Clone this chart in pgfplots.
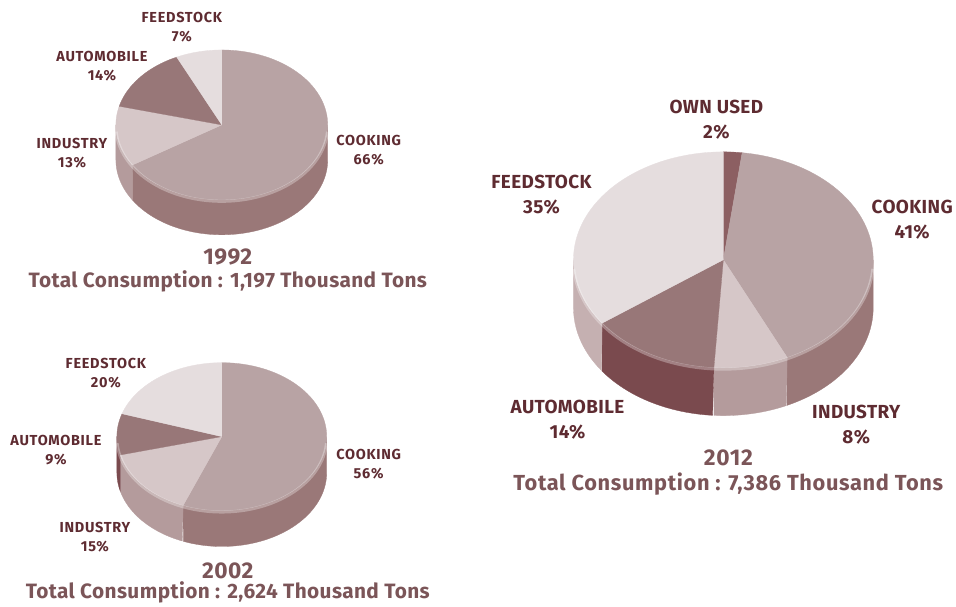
\documentclass[border=0pt]{standalone}
\usepackage{pgfplots}
\pgfplotsset{compat=1.18}
\usepackage{fontspec}
\setmainfont{Fira Sans}
\newfontfamily\labA[LetterSpace=5]{Fira Sans}
\newfontfamily\labB[LetterSpace=2]{Fira Sans}
\newfontfamily\ttlA[LetterSpace=2]{Fira Sans}
\newfontfamily\ttlB[LetterSpace=3]{Fira Sans}
\definecolor{cookT}{HTML}{B8A3A4}
\definecolor{cookS}{HTML}{9A7878}
\definecolor{indT}{HTML}{D6C7C8}
\definecolor{indS}{HTML}{B49B9C}
\definecolor{autoT}{HTML}{987778}
\definecolor{autoS}{HTML}{7A4A4E}
\definecolor{feedT}{HTML}{E5DDDE}
\definecolor{feedS}{HTML}{C5B0B1}
\definecolor{ownT}{HTML}{8C5F62}
\definecolor{ownS}{HTML}{7A4A4E}
\definecolor{lab}{HTML}{5E2B31}
\definecolor{ttl}{HTML}{7B5558}

% sides of a pie: cx cy rx ry depth list(pct/top/side)
\newcommand\piesides[6]{%
  \gdef\cum{0}%
  \foreach \p/\tc/\sc in #6{%
    \pgfmathsetmacro\aS{90-3.6*\cum}%
    \pgfmathsetmacro\aE{90-3.6*(\cum+\p)}%
    \pgfmathsetmacro\lo{max(\aE,-180)}%
    \pgfmathsetmacro\hi{min(\aS,0)}%
    \pgfmathparse{\hi>\lo ? 1 : 0}%
    \ifdim\pgfmathresult pt>0.5pt
      \edef\tmp{\noexpand\addplot[fill=\sc, draw=\sc, line width=0.3pt, variable=\noexpand\s,
        samples at={0,0.01,...,1,1.000001,1.01,...,2}]
        ({#1+#3*cos(\lo+(\hi-\lo)*(1-abs(1-\noexpand\s)))},
         {#2-#4*sin(\lo+(\hi-\lo)*(1-abs(1-\noexpand\s)))+#5*(\noexpand\s>1)}) -- cycle;}%
      \tmp
    \fi
    \pgfmathparse{\cum+\p}\xdef\cum{\pgfmathresult}%
  }%
}
% top of a pie: cx cy rx ry list
\newcommand\pietops[5]{%
  \gdef\cum{0}%
  \foreach \p/\tc/\sc in #5{%
    \pgfmathsetmacro\aS{90-3.6*\cum}%
    \pgfmathsetmacro\aE{90-3.6*(\cum+\p)}%
    \edef\tmp{\noexpand\addplot[fill=\tc, draw=\tc, line width=0.3pt, variable=\noexpand\s,
      domain=\aE:\aS, samples=90]
      ({#1+#3*cos(\noexpand\s)},{#2-#4*sin(\noexpand\s)}) -- (#1,#2) -- cycle;}%
    \tmp
    \pgfmathparse{\cum+\p}\xdef\cum{\pgfmathresult}%
  }%
}
\newcommand\pierim[4]{%
  \addplot[draw=white, opacity=0.3, line width=3pt, variable=\s, domain=-176:-4, samples=90]
    ({#1+#3*cos(\s)},{#2-#4*sin(\s)+1.5});
}

\begin{document}
\begin{tikzpicture}
\begin{axis}[
  width=956pt, height=604pt, scale only axis,
  xmin=0, xmax=956, ymin=0, ymax=604, y dir=reverse,
  hide axis, clip=false]
\path (axis cs:0,0) rectangle (axis cs:956,604);

% 1992
\def\dataA{66/cookT/cookS, 13/indT/indS, 14/autoT/autoS, 7/feedT/feedS}
\piesides{222}{125}{106}{75}{35}{\dataA}
\pietops{222}{125}{106}{75}{\dataA}
\pierim{222}{125}{106}{75}

% 2002
\def\dataB{56/cookT/cookS, 15/indT/indS, 9/autoT/autoS, 20/feedT/feedS}
\piesides{222}{437}{105}{74}{36}{\dataB}
\pietops{222}{437}{105}{74}{\dataB}
\pierim{222}{437}{105}{74}

% 2012
\def\dataC{2/ownT/ownS, 41/cookT/cookS, 8/indT/indS, 14/autoT/autoS, 35/feedT/feedS}
\piesides{724}{260}{150}{108}{48}{\dataC}
\pietops{724}{260}{150}{108}{\dataC}
\pierim{724}{260}{150}{108}

% labels 1992 / 2002
\begin{scope}[every node/.style={align=center, text=lab, font=\labA\fontsize{14.5}{19}\selectfont\bfseries}]
\node at (axis cs:182,27.5) {FEEDSTOCK\\7\%};
\node at (axis cs:102,66.5) {AUTOMOBILE\\14\%};
\node at (axis cs:72,153) {INDUSTRY\\13\%};
\node at (axis cs:369,150) {COOKING\\66\%};
\node at (axis cs:106,373.5) {FEEDSTOCK\\20\%};
\node at (axis cs:56,451) {AUTOMOBILE\\9\%};
\node at (axis cs:95,537.5) {INDUSTRY\\15\%};
\node at (axis cs:369,464.5) {COOKING\\56\%};
\end{scope}
% labels 2012
\begin{scope}[every node/.style={align=center, text=lab, font=\labB\fontsize{18.9}{25}\selectfont\bfseries}]
\node at (axis cs:717,119.5) {OWN USED\\2\%};
\node at (axis cs:542,194.5) {FEEDSTOCK\\35\%};
\node at (axis cs:913,219.5) {COOKING\\41\%};
\node at (axis cs:568,420.5) {AUTOMOBILE\\14\%};
\node at (axis cs:857,425) {INDUSTRY\\8\%};
\end{scope}
% titles
\begin{scope}[every node/.style={text=ttl}]
\node[font=\ttlA\fontsize{22.8}{26}\selectfont\bfseries] at (axis cs:228,257) {1992};
\node[font=\ttlA\fontsize{20.8}{24}\selectfont\bfseries] at (axis cs:228,282) {Total Consumption : 1,197 Thousand Tons};
\node[font=\ttlA\fontsize{22.8}{26}\selectfont\bfseries] at (axis cs:228,571) {2002};
\node[font=\ttlA\fontsize{20.8}{24}\selectfont\bfseries] at (axis cs:228,593) {Total Consumption : 2,624 Thousand Tons};
\node[font=\ttlB\fontsize{22.8}{26}\selectfont\bfseries] at (axis cs:729,458) {2012};
\node[font=\ttlB\fontsize{21.8}{24}\selectfont\bfseries] at (axis cs:729,485) {Total Consumption : 7,386 Thousand Tons};
\end{scope}
\end{axis}
\end{tikzpicture}
\end{document}
